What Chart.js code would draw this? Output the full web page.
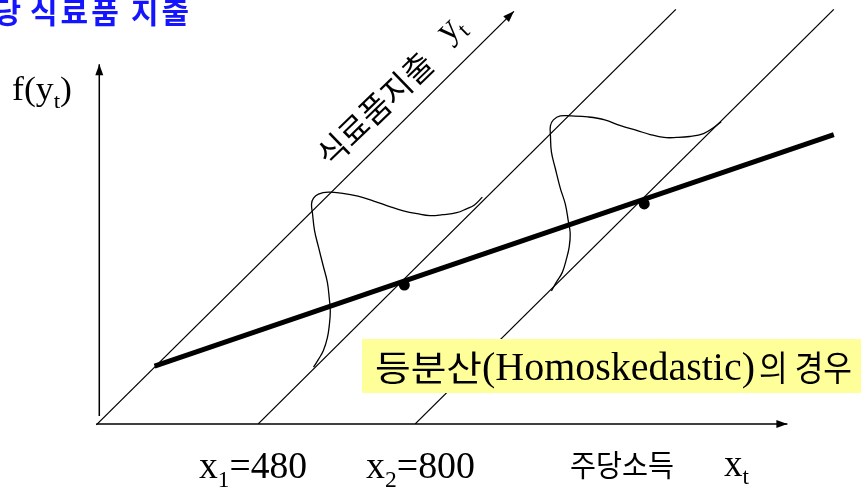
<!DOCTYPE html>
<html>
<head>
<meta charset="utf-8">
<script src="https://cdn.jsdelivr.net/npm/chart.js@4.4.1/dist/chart.umd.min.js"></script>
<style>
  html, body { margin: 0; padding: 0; background: #fff; }
  #wrap { width: 862px; height: 490px; }
</style>
</head>
<body>
<div id="wrap"><canvas id="chart" width="862" height="490"></canvas></div>
<script>
// diagram space: same frame as the picture, y grows downward
const incomeAxis = [{x: 92, y: 428}, {x: 792, y: 428}];
const densityAxis = [{x: 95, y: 420}, {x: 95, y: 60}];
const expenditureAxis = [{x: 92, y: 429}, {x: 515, y: 6}];
const guideX1 = [{x: 256, y: 428}, {x: 679, y: 4}];
const guideX2 = [{x: 415, y: 428}, {x: 839, y: 4}];
const regressionLine = [{x: 151, y: 369}, {x: 839, y: 132}];
const conditionalMeans = [{x: 404, y: 286}, {x: 647, y: 203}];

// sideways bell curves
const density1 = [
  {x: 483, y: 196}, {x: 475, y: 204}, {x: 467, y: 208}, {x: 457, y: 212}, {x: 443, y: 214},
  {x: 430, y: 215}, {x: 417, y: 213}, {x: 403, y: 210}, {x: 390, y: 206}, {x: 373, y: 200},
  {x: 357, y: 195}, {x: 340, y: 192}, {x: 327, y: 191}, {x: 317, y: 193}, {x: 312, y: 197},
  {x: 310, y: 203}, {x: 311, y: 213}, {x: 313, y: 230}, {x: 317, y: 247}, {x: 322, y: 267},
  {x: 326, y: 283}, {x: 328, y: 300}, {x: 329, y: 313}, {x: 328, y: 327}, {x: 326, y: 340},
  {x: 322, y: 353}, {x: 317, y: 362}, {x: 312, y: 370}
];
const density2 = [
  {x: 725, y: 119}, {x: 717, y: 125}, {x: 707, y: 131}, {x: 693, y: 134}, {x: 680, y: 135},
  {x: 667, y: 135}, {x: 653, y: 132}, {x: 640, y: 128}, {x: 623, y: 123}, {x: 607, y: 117},
  {x: 590, y: 114}, {x: 573, y: 113}, {x: 562, y: 113}, {x: 555, y: 117}, {x: 552, y: 123},
  {x: 552, y: 133}, {x: 553, y: 150}, {x: 557, y: 167}, {x: 562, y: 187}, {x: 567, y: 203},
  {x: 570, y: 220}, {x: 572, y: 233}, {x: 571, y: 247}, {x: 568, y: 260}, {x: 564, y: 273},
  {x: 558, y: 283}, {x: 553, y: 292}
];

const titleText = ['주당', '식료품', '지출'];
const verticalLabel = 'f(y';
const obliqueLabel = '식료품지출';
const incomeLabel = '주당소득';
const tickLabels = [['x', '1', '=480'], ['x', '2', '=800']];
const noteText = ['등분산', '(Homoskedastic)', '의 경우'];

const SERIF = '"Liberation Serif", "Times New Roman", serif';
const SANS = '"Noto Sans CJK KR", sans-serif';

function thinLine(data, extra) {
  return Object.assign({
    data: data,
    borderColor: '#000',
    borderWidth: 1.3,
    pointRadius: 0,
    tension: 0
  }, extra || {});
}

// draw a row of text pieces, squeezed to a given width
function drawRuns(ctx, runs, x, y, width) {
  let natural = 0;
  runs.forEach(r => { ctx.font = r.font; natural += ctx.measureText(r.text).width; });
  const k = width ? width / natural : 1;
  ctx.save();
  ctx.translate(x, y);
  ctx.scale(k, 1);
  let cx = 0;
  runs.forEach(r => {
    ctx.font = r.font;
    ctx.fillText(r.text, cx, r.dy || 0);
    cx += ctx.measureText(r.text).width;
  });
  ctx.restore();
}

const arrowHeads = {
  id: 'arrowHeads',
  afterDatasetsDraw(chart) {
    const ctx = chart.ctx;
    chart.data.datasets.forEach((ds, i) => {
      if (!ds.arrow) return;
      const pts = chart.getDatasetMeta(i).data;
      const a = pts[pts.length - 2], b = pts[pts.length - 1];
      const ang = Math.atan2(b.y - a.y, b.x - a.x);
      ctx.save();
      ctx.translate(b.x, b.y);
      ctx.rotate(ang);
      ctx.beginPath();
      ctx.moveTo(0, 0);
      ctx.lineTo(-11, -4);
      ctx.lineTo(-11, 4);
      ctx.closePath();
      ctx.fillStyle = '#000';
      ctx.fill();
      ctx.restore();
    });
  }
};

const labels = {
  id: 'labels',
  afterDatasetsDraw(chart) {
    const ctx = chart.ctx;
    ctx.save();
    ctx.textBaseline = 'alphabetic';
    ctx.textAlign = 'left';

    // note box
    ctx.fillStyle = '#ffff99';
    ctx.fillRect(362, 339, 499, 54);
    ctx.fillStyle = '#000';
    drawRuns(ctx, [{text: noteText[0], font: '35px ' + SANS}], 375, 381, 107);
    drawRuns(ctx, [{text: noteText[1], font: '39px ' + SERIF}], 482, 380, 273);
    drawRuns(ctx, [{text: noteText[2], font: '35px ' + SANS}], 759, 381, 93);

    // title, cut by the left edge
    ctx.fillStyle = '#1414ff';
    ctx.font = 'bold 30px ' + SANS;
    ctx.letterSpacing = '3px';
    const w0 = ctx.measureText(titleText[0]).width;
    ctx.fillText(titleText[0], 24 - w0, 23);
    ctx.fillText(titleText[1], 30, 23);
    ctx.fillText(titleText[2], 131, 23);
    ctx.letterSpacing = '0px';

    // f(y_t)
    ctx.fillStyle = '#000';
    drawRuns(ctx, [
      {text: verticalLabel, font: '34px ' + SERIF},
      {text: 't', font: '22px ' + SERIF, dy: 8},
      {text: ')', font: '34px ' + SERIF}
    ], 12, 100, 60);

    // tick labels under the income axis
    const tickX = [199, 366];
    const tickW = [108, 109];
    tickLabels.forEach((t, i) => {
      drawRuns(ctx, [
        {text: t[0], font: '37px ' + SERIF},
        {text: t[1], font: '23px ' + SERIF, dy: 9},
        {text: t[2], font: '37px ' + SERIF}
      ], tickX[i], 478, tickW[i]);
    });

    // income axis title
    drawRuns(ctx, [{text: incomeLabel, font: '30px ' + SANS}], 570, 476, 104);
    drawRuns(ctx, [
      {text: 'x', font: '37px ' + SERIF},
      {text: 't', font: '23px ' + SERIF, dy: 8}
    ], 724, 476);

    // oblique axis title
    ctx.translate(322, 160);
    ctx.rotate(-44 * Math.PI / 180);
    ctx.textBaseline = 'middle';
    ctx.font = '32px ' + SANS;
    ctx.fillText(obliqueLabel, 0, 0);
    ctx.textBaseline = 'alphabetic';
    ctx.font = '36px ' + SERIF;
    ctx.fillText('y', 172, 4);
    ctx.font = '23px ' + SERIF;
    ctx.fillText('t', 189, 12);
    ctx.restore();
  }
};

new Chart(document.getElementById('chart'), {
  type: 'line',
  data: {
    datasets: [
      thinLine(incomeAxis, {arrow: true, borderWidth: 1.5}),
      thinLine(densityAxis, {arrow: true, borderWidth: 1.5}),
      thinLine(expenditureAxis, {arrow: true}),
      thinLine(guideX1),
      thinLine(guideX2),
      thinLine(density1, {tension: 0.4}),
      thinLine(density2, {tension: 0.4}),
      {
        data: regressionLine,
        borderColor: '#000',
        borderWidth: 5,
        pointRadius: 0
      },
      {
        data: conditionalMeans,
        showLine: false,
        pointRadius: 5.5,
        pointBackgroundColor: '#000',
        pointBorderWidth: 0
      }
    ]
  },
  options: {
    responsive: false,
    devicePixelRatio: 1,
    animation: false,
    layout: { padding: 0 },
    plugins: {
      legend: { display: false },
      tooltip: { enabled: false }
    },
    scales: {
      x: { type: 'linear', min: 0, max: 862, display: false },
      y: { type: 'linear', min: 0, max: 490, reverse: true, display: false }
    }
  },
  plugins: [arrowHeads, labels]
});
</script>
</body>
</html>
